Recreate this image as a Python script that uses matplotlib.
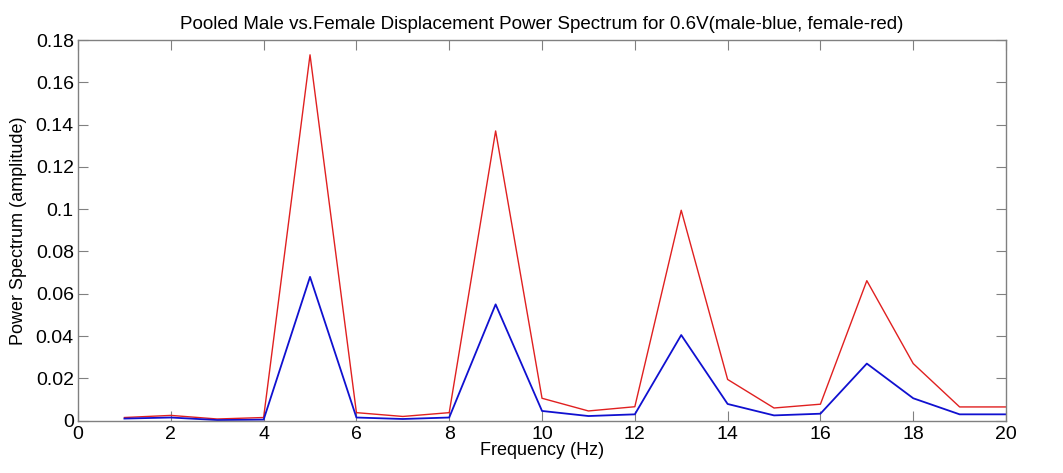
import matplotlib
matplotlib.use("Agg")
import matplotlib.pyplot as plt

plt.rcParams['font.family'] = ['Liberation Sans', 'DejaVu Sans']

freq = list(range(1, 21))
male = [0.0010, 0.0015, 0.0003, 0.0005, 0.0680, 0.0015, 0.0008, 0.0015, 0.0550, 0.0046,
        0.0022, 0.0030, 0.0405, 0.0079, 0.0025, 0.0033, 0.0270, 0.0106, 0.0030, 0.0030]
female = [0.0015, 0.0025, 0.0008, 0.0015, 0.1730, 0.0038, 0.0020, 0.0038, 0.1370, 0.0106,
          0.0046, 0.0066, 0.0995, 0.0195, 0.0060, 0.0078, 0.0662, 0.0270, 0.0065, 0.0065]
xticks = list(range(0, 21, 2))
yticks = [0, 0.02, 0.04, 0.06, 0.08, 0.1, 0.12, 0.14, 0.16, 0.18]
ytick_labels = ['0', '0.02', '0.04', '0.06', '0.08', '0.1', '0.12', '0.14', '0.16', '0.18']

fig = plt.figure(figsize=(10.63, 4.73), dpi=100)
ax = fig.add_axes([0.0734, 0.1106, 0.873, 0.8048])

ax.plot(freq, female, color='#e02020', linewidth=1.0)
ax.plot(freq, male, color='#1010d0', linewidth=1.3)

ax.set_xlim(0, 20)
ax.set_ylim(0, 0.18)
ax.set_xticks(xticks)
ax.set_yticks(yticks)
ax.set_yticklabels(ytick_labels)
ax.tick_params(direction='in', top=True, right=True, length=7, width=0.8,
               color='#808080', labelsize=14)
ax.tick_params(axis='x', pad=4)
ax.tick_params(axis='y', pad=3)
for s in ax.spines.values():
    s.set_color('#808080')
    s.set_linewidth(1.0)

ax.set_xlabel('Frequency (Hz)', fontsize=13, labelpad=-1)
ax.set_ylabel('Power Spectrum (amplitude)', fontsize=13, labelpad=6)
ax.set_title('Pooled Male vs.Female Displacement Power Spectrum for 0.6V(male-blue, female-red)',
             fontsize=13.5, pad=8)

fig.savefig('out.png', dpi=100)
plt.close(fig)
